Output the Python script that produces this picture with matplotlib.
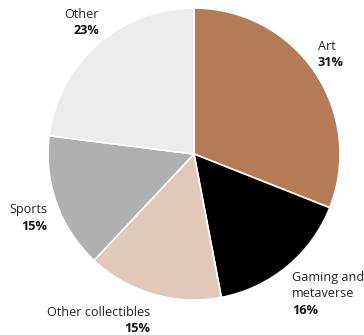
import matplotlib.pyplot as plt

# Share of NFT sales by category
categories = ['Art', 'Gaming and\nmetaverse', 'Other collectibles', 'Sports', 'Other']
shares = [31, 16, 15, 15, 23]
colors = ['#b57b56', '#000000', '#e1c8ba', '#b0b0b0', '#ececec']

W, H = 364, 335
fig = plt.figure(figsize=(W / 100, H / 100), dpi=100)

# Pie: centre (194, 154) px from top-left, radius 146 px
cx, cy, r = 194, 154, 146
ax = fig.add_axes([(cx - r) / W, (H - cy - r) / H, 2 * r / W, 2 * r / H])
ax.pie(shares, colors=colors, startangle=90, counterclock=False,
       wedgeprops=dict(edgecolor='white', linewidth=1.2))
ax.set_xlim(-1, 1)
ax.set_ylim(-1, 1)
ax.set_aspect('equal')
ax.axis('off')

font = 'Open Sans'
fs = 9.1

# label anchor (px), alignment
label_pos = [(318, 46, 'left'), (292, 277, 'left'), (150, 312, 'right'),
             (47, 210, 'right'), (99, 14, 'right')]

for name, val, (px, py, ha) in zip(categories, shares, label_pos):
    n_lines = name.count('\n') + 1
    step = 16.5
    for i, line in enumerate(name.split('\n')):
        fig.text(px / W, 1 - (py + i * step) / H, line, ha=ha, va='center',
                 fontsize=fs, family=font, color='#222222')
    fig.text(px / W, 1 - (py + n_lines * step) / H, f'{val}%', ha=ha, va='center',
             fontsize=fs, family=font, fontweight='bold', color='#111111')

fig.savefig('out.png', dpi=100)
